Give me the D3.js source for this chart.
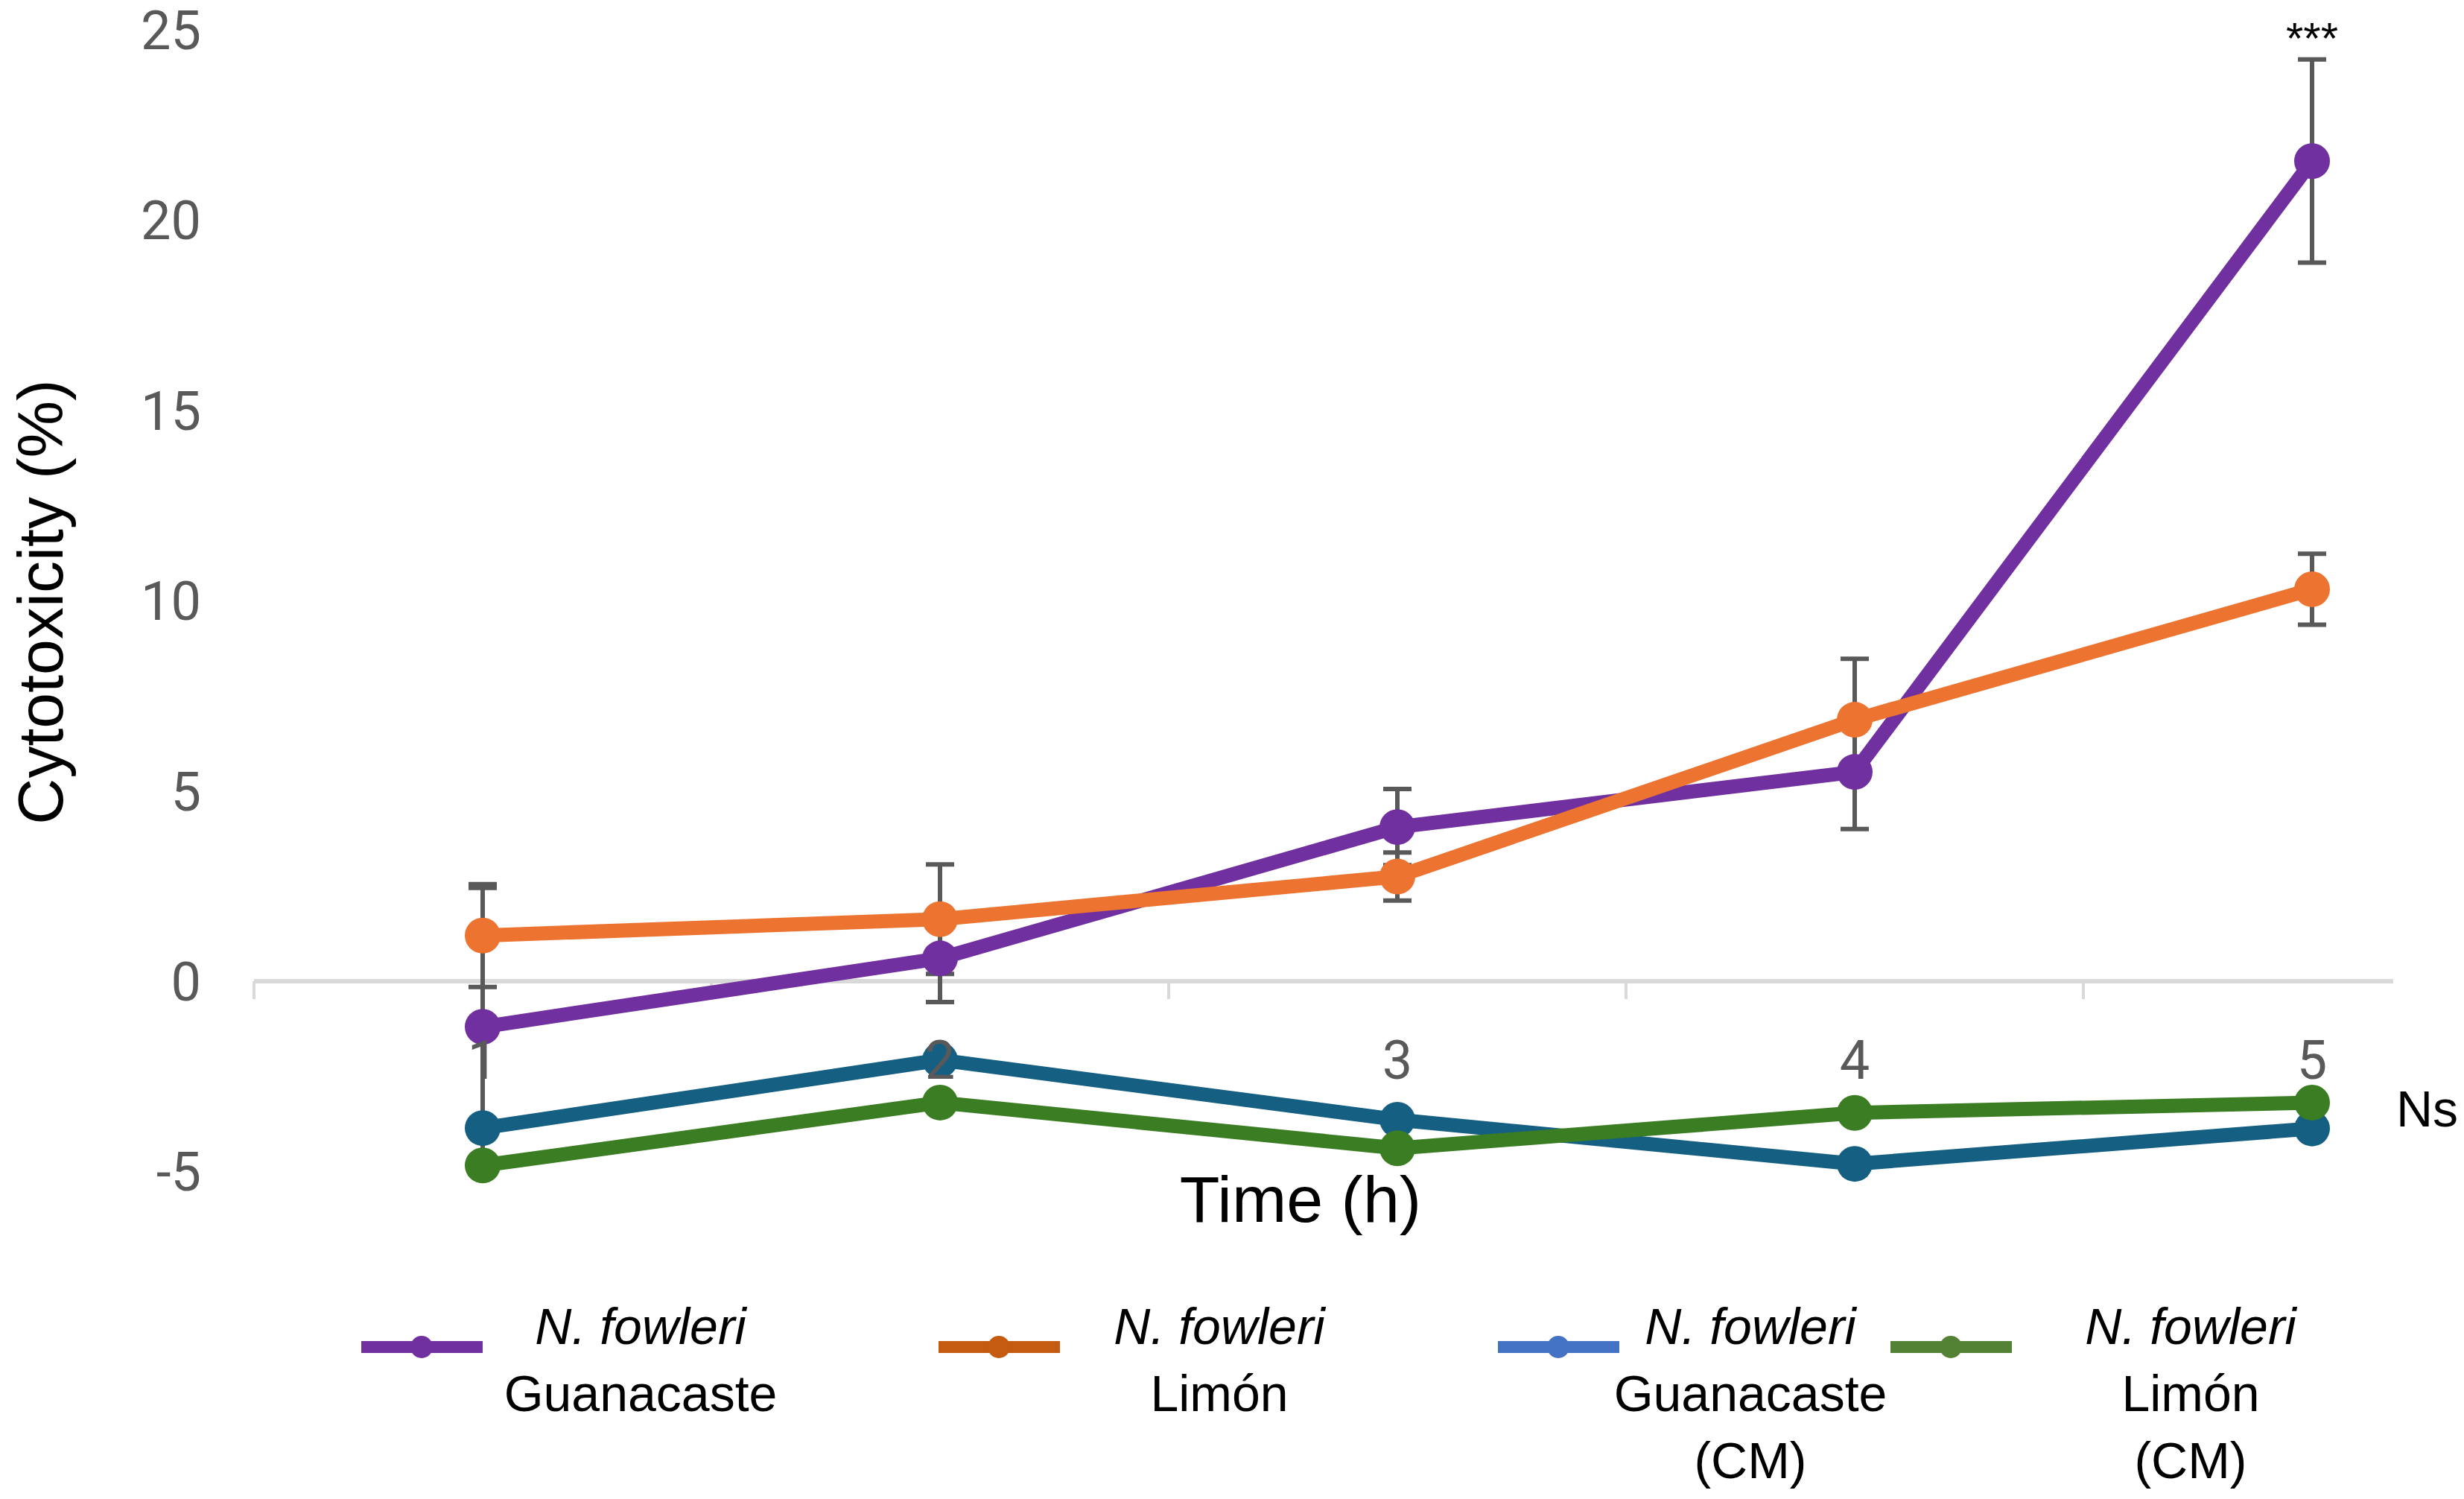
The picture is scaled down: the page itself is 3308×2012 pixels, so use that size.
<!DOCTYPE html>
<meta charset="utf-8">
<title>Cytotoxicity</title>
<style>
body { margin: 0; background: #fff; }
svg { display: block; font-family: "Liberation Sans", Arial, sans-serif; }
.tick-label { font-family: Roboto, "Liberation Sans", sans-serif; fill: #595959; }
</style>
<svg width="3308" height="2012"></svg>
<script src="https://cdn.jsdelivr.net/npm/d3@7"></script>
<script>

// values (mean cytotoxicity %, error bars)
var times = [1, 2, 3, 4, 5];
var yTicks = [-5, 0, 5, 10, 15, 20, 25];

var guanMean = [-1.2, 0.6, 4.05, 5.5, 21.55];
var guanErr = [3.65, 1.15, 1.0, 1.5, 2.67];
var limonMean = [1.2, 1.63, 2.75, 6.87, 10.3];
var limonErr = [1.35, 1.44, 0.63, 1.6, 0.93];
var guanCM = [-3.86, -2.07, -3.64, -4.8, -3.87];
var limonCM = [-4.84, -3.19, -4.39, -3.46, -3.19];

var legendLines = [
  ["N. fowleri", "Guanacaste"],
  ["N. fowleri", "Limón"],
  ["N. fowleri", "Guanacaste", "(CM)"],
  ["N. fowleri", "Limón", "(CM)"]
];

var svg = d3.select("svg");

var x = d3.scalePoint()
    .domain(times)
    .range([648, 3104]);

var y = d3.scaleLinear()
    .domain([-5, 25])
    .range([1572.4, 40]);

var step = x.step();

var guan   = {mean: guanMean,  err: guanErr,  line: "#7030a0", key: "#7030a0"};
var limon  = {mean: limonMean, err: limonErr, line: "#ed7331", key: "#c55a11"};
var guanC  = {mean: guanCM,    err: null,     line: "#156082", key: "#4472c4"};
var limonC = {mean: limonCM,   err: null,     line: "#3a7d22", key: "#548235"};

// horizontal axis at zero
var axisG = svg.append("g");
axisG.append("line")
    .attr("x1", x(1) - step / 2)
    .attr("x2", 3213)
    .attr("y1", y(0))
    .attr("y2", y(0))
    .attr("stroke", "#d9d9d9")
    .attr("stroke-width", 6);

axisG.selectAll(".xtick")
    .data(times)
  .enter().append("line")
    .attr("class", "xtick")
    .attr("x1", function(d) { return x(d) - step / 2; })
    .attr("x2", function(d) { return x(d) - step / 2; })
    .attr("y1", y(0))
    .attr("y2", y(0) + 24)
    .attr("stroke", "#d9d9d9")
    .attr("stroke-width", 4);

// y tick labels
svg.append("g").selectAll("text")
    .data(yTicks)
  .enter().append("text")
    .attr("class", "tick-label")
    .attr("x", 270)
    .attr("y", function(d) { return y(d); })
    .attr("dy", "0.36em")
    .attr("text-anchor", "end")
    .style("font-size", "72px")
    .text(function(d) { return d; });

// error bars go underneath the markers
[guan, limon].forEach(function(s) {
  var g = svg.append("g")
      .attr("stroke", "#595959")
      .attr("stroke-width", 6);
  s.mean.forEach(function(m, i) {
    var cx = x(times[i]);
    var lo = y(m - s.err[i]), hi = y(m + s.err[i]);
    g.append("line").attr("x1", cx).attr("x2", cx).attr("y1", lo).attr("y2", hi);
    g.append("line").attr("x1", cx - 19).attr("x2", cx + 19).attr("y1", lo).attr("y2", lo);
    g.append("line").attr("x1", cx - 19).attr("x2", cx + 19).attr("y1", hi).attr("y2", hi);
  });
});

var line = d3.line()
    .x(function(d, i) { return x(times[i]); })
    .y(function(d) { return y(d); });

function drawSeries(s) {
  var g = svg.append("g");
  g.append("path")
      .datum(s.mean)
      .attr("d", line)
      .attr("fill", "none")
      .attr("stroke", s.line)
      .attr("stroke-width", 19)
      .attr("stroke-linejoin", "round");
  g.selectAll("circle")
      .data(s.mean)
    .enter().append("circle")
      .attr("cx", function(d, i) { return x(times[i]); })
      .attr("cy", function(d) { return y(d); })
      .attr("r", 24)
      .attr("fill", s.line);
}

drawSeries(guanC);
drawSeries(limonC);
drawSeries(guan);
drawSeries(limon);

// x tick labels end up on top of the markers
svg.append("g").selectAll("text")
    .data(times)
  .enter().append("text")
    .attr("class", "tick-label")
    .attr("x", function(d) { return x(d); })
    .attr("y", 1422)
    .attr("dy", "0.36em")
    .attr("text-anchor", "middle")
    .style("font-size", "72px")
    .text(function(d) { return d; });

// significance marks
svg.append("text")
    .attr("x", x(5))
    .attr("y", 72)
    .attr("text-anchor", "middle")
    .style("font-size", "60px")
    .attr("fill", "#000")
    .text("***");

svg.append("text")
    .attr("x", 3217)
    .attr("y", 1512)
    .style("font-size", "68px")
    .attr("fill", "#000")
    .text("Ns");

// axis titles
svg.append("text")
    .attr("transform", "translate(84,808) rotate(-90)")
    .attr("text-anchor", "middle")
    .style("font-size", "86px")
    .attr("fill", "#000")
    .text("Cytotoxicity (%)");

svg.append("text")
    .attr("x", 1746)
    .attr("y", 1640)
    .attr("text-anchor", "middle")
    .style("font-size", "88px")
    .attr("fill", "#000")
    .text("Time (h)");

// legend
var legendSeries = [guan, limon, guanC, limonC];
var legendKeyX = [485, 1260, 2011, 2538];
var legendTextX = [860, 1637, 2350, 2941];
var legendY = 1808;

legendLines.forEach(function(lines, k) {
  var g = svg.append("g");
  var col = legendSeries[k].key;
  g.append("line")
      .attr("x1", legendKeyX[k])
      .attr("x2", legendKeyX[k] + 163)
      .attr("y1", legendY)
      .attr("y2", legendY)
      .attr("stroke", col)
      .attr("stroke-width", 16);
  g.append("circle")
      .attr("cx", legendKeyX[k] + 81)
      .attr("cy", legendY)
      .attr("r", 15)
      .attr("fill", col);
  g.selectAll("text")
      .data(lines)
    .enter().append("text")
      .attr("x", legendTextX[k])
      .attr("y", function(d, i) { return 1804 + i * 90; })
      .attr("text-anchor", "middle")
      .style("font-size", "68px")
      .style("font-style", function(d, i) { return i === 0 ? "italic" : null; })
      .attr("fill", "#000")
      .text(function(d) { return d; });
});

</script>
